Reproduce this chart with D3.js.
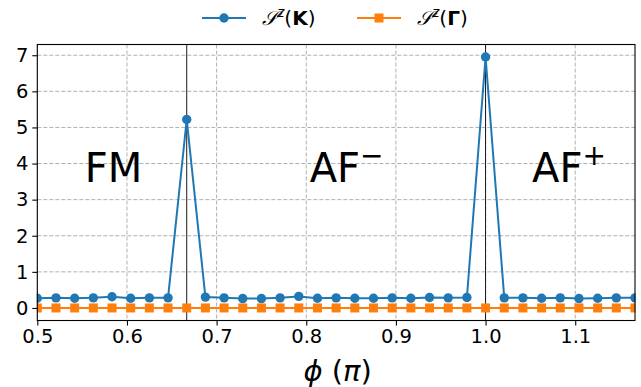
<!DOCTYPE html>
<html>
<head>
<meta charset="utf-8">
<script src="https://cdn.jsdelivr.net/npm/d3@7"></script>
<style>
  html, body { margin: 0; padding: 0; background: #fff; }
  svg { display: block; font-family: "DejaVu Sans", sans-serif; }
</style>
</head>
<body>
<svg id="chart" width="641" height="387"></svg>
<script>
// phi in units of pi, step 1/48 from 1/2 to 7/6
const phi = d3.range(33).map(i => 0.5 + i / 48);
// S^z(K) structure factor
const sK = [0.27, 0.28, 0.27, 0.28, 0.31, 0.27, 0.28, 0.28, 5.22,
            0.30, 0.28, 0.26, 0.26, 0.28, 0.32, 0.27, 0.28, 0.27,
            0.27, 0.28, 0.27, 0.29, 0.28, 0.29, 6.95, 0.28, 0.28,
            0.27, 0.28, 0.26, 0.27, 0.28, 0.28];
// S^z(Gamma) structure factor
const sG = phi.map(() => 0);
const xTicks = [0.5, 0.6, 0.7, 0.8, 0.9, 1.0, 1.1];
const yTicks = [0, 1, 2, 3, 4, 5, 6, 7];
// phase boundaries
const boundaries = [2 / 3, 1.0];
const phases = [
  { x: 0.585, base: "FM", sup: "" },
  { x: 0.845, base: "AF", sup: "\u2212" },
  { x: 1.093, base: "AF", sup: "+" }
];

const blue = "#1f77b4", orange = "#ff7f0e";
const svg = d3.select("#chart");
const m = { left: 37.3, right: 635, top: 44.5, bottom: 320.5 };

const yMax = d3.max(sK), pad = 0.05 * yMax;
const x = d3.scaleLinear().domain([0.5, 7 / 6]).range([m.left, m.right]);
const y = d3.scaleLinear().domain([-pad, yMax + pad]).range([m.bottom, m.top]);

// grid
const grid = svg.append("g").attr("stroke", "#b0b0b0").attr("stroke-width", 1)
  .attr("stroke-dasharray", "4,2");
grid.selectAll(".gx").data(xTicks).join("line")
  .attr("x1", d => x(d)).attr("x2", d => x(d)).attr("y1", m.top).attr("y2", m.bottom);
grid.selectAll(".gy").data(yTicks).join("line")
  .attr("y1", d => y(d)).attr("y2", d => y(d)).attr("x1", m.left).attr("x2", m.right);

// phase boundary lines
svg.append("g").selectAll("line").data(boundaries).join("line")
  .attr("x1", d => x(d)).attr("x2", d => x(d)).attr("y1", m.top).attr("y2", m.bottom)
  .attr("stroke", "#000").attr("stroke-width", 0.9);

// phase labels
const lab = svg.append("g").attr("font-size", 40).attr("fill", "#000");
phases.forEach(p => {
  const t = lab.append("text").attr("x", x(p.x)).attr("y", 182).attr("text-anchor", "middle");
  t.append("tspan").text(p.base);
  if (p.sup) t.append("tspan").attr("font-size", 28).attr("dy", -17).text(p.sup);
});

const plotArea = svg.append("g");
const line = d3.line().x((d, i) => x(phi[i])).y(d => y(d));

// S^z(K): line with circle markers
plotArea.append("path").datum(sK).attr("d", line)
  .attr("fill", "none").attr("stroke", blue).attr("stroke-width", 2);
plotArea.selectAll(".dk").data(sK).join("circle")
  .attr("cx", (d, i) => x(phi[i])).attr("cy", d => y(d)).attr("r", 4.7).attr("fill", blue);

// S^z(Gamma): line with square markers
plotArea.append("path").datum(sG).attr("d", line)
  .attr("fill", "none").attr("stroke", orange).attr("stroke-width", 2);
plotArea.selectAll(".dg").data(sG).join("rect")
  .attr("x", (d, i) => x(phi[i]) - 4.5).attr("y", d => y(d) - 4.5)
  .attr("width", 9).attr("height", 9).attr("fill", orange);

// cover marker halves that fall outside the axes on left/right
svg.append("rect").attr("x", 0).attr("y", m.top).attr("width", m.left - 0.5).attr("height", m.bottom - m.top).attr("fill", "#fff");
svg.append("rect").attr("x", m.right + 0.5).attr("y", m.top).attr("width", 641 - m.right).attr("height", m.bottom - m.top).attr("fill", "#fff");

// frame
svg.append("rect").attr("x", m.left).attr("y", m.top)
  .attr("width", m.right - m.left).attr("height", m.bottom - m.top)
  .attr("fill", "none").attr("stroke", "#000").attr("stroke-width", 1.1);

// axes
const xAxis = svg.append("g").attr("transform", `translate(0,${m.bottom})`)
  .call(d3.axisBottom(x).tickValues(xTicks).tickFormat(d3.format(".1f")).tickSize(5).tickPadding(4));
const yAxis = svg.append("g").attr("transform", `translate(${m.left},0)`)
  .call(d3.axisLeft(y).tickValues(yTicks).tickFormat(d3.format("d")).tickSize(5).tickPadding(4));
[xAxis, yAxis].forEach(a => {
  a.select(".domain").remove();
  a.selectAll(".tick line").attr("stroke", "#000").attr("stroke-width", 1.1);
  a.selectAll(".tick text").attr("font-size", 19.5).attr("fill", "#000")
    .attr("font-family", "DejaVu Sans, sans-serif");
});

// x label
const xl = svg.append("text").attr("x", x(0.835)).attr("y", 381).attr("text-anchor", "middle")
  .attr("font-size", 29).attr("fill", "#000");
xl.append("tspan").attr("font-style", "italic").text("\u03d5");
xl.append("tspan").text(" (");
xl.append("tspan").attr("font-style", "italic").text("\u03c0");
xl.append("tspan").text(")");

// legend
const leg = svg.append("g").attr("transform", "translate(0,18)");
const items = [
  { x0: 202, color: blue, shape: "circle", arg: "K" },
  { x0: 357, color: orange, shape: "square", arg: "\u0393" }
];
items.forEach(it => {
  leg.append("line").attr("x1", it.x0).attr("x2", it.x0 + 44).attr("y1", 0).attr("y2", 0)
    .attr("stroke", it.color).attr("stroke-width", 2);
  if (it.shape === "circle") {
    leg.append("circle").attr("cx", it.x0 + 22).attr("cy", 0).attr("r", 4.7).attr("fill", it.color);
  } else {
    leg.append("rect").attr("x", it.x0 + 17.5).attr("y", -4.5).attr("width", 9).attr("height", 9).attr("fill", it.color);
  }
  const t = leg.append("text").attr("x", it.x0 + 60).attr("y", 7).attr("font-size", 20).attr("fill", "#000");
  t.append("tspan").attr("font-family", "DejaVu Serif, serif").attr("font-style", "italic").text("\ud835\udcae");
  t.append("tspan").attr("font-style", "italic").attr("font-size", 14).attr("dy", -8).text("z");
  t.append("tspan").attr("dy", 8).text("(");
  t.append("tspan").attr("font-weight", "bold").text(it.arg);
  t.append("tspan").text(")");
});
</script>
</body>
</html>
